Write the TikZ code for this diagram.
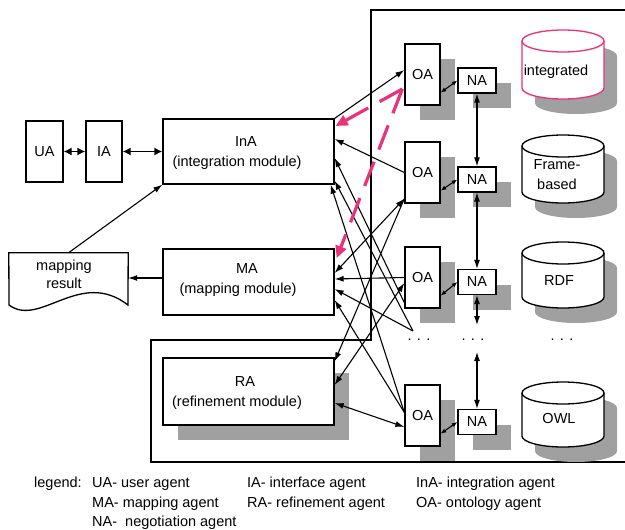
\documentclass[tikz,border=0pt]{standalone}
\usepackage{fontspec}
\setmainfont{Liberation Sans}
\usetikzlibrary{arrows.meta,shadows,calc}
\definecolor{shadowgray}{RGB}{160,160,160}
\definecolor{pinkline}{RGB}{232,50,122}
\newcommand{\dbcyl}[4]{%
  \fill[shadowgray] (#1+82+13,#2+15) -- (#1+82+13,#3+15) arc[start angle=0,end angle=180,x radius=41,y radius=11] -- (#1+13,#2+15) arc[start angle=180,end angle=360,x radius=41,y radius=11] -- cycle;
  \filldraw[fill=white,draw=#4,line width=1.3pt] (#1+82,#2) -- (#1+82,#3) arc[start angle=0,end angle=180,x radius=41,y radius=11] -- (#1,#2) arc[start angle=180,end angle=360,x radius=41,y radius=11] -- cycle;
  \draw[draw=#4,line width=1.3pt] (#1,#2) arc[start angle=180,end angle=0,x radius=41,y radius=11];
}
\tikzset{
  box/.style={draw, line width=1.3pt, fill=white, inner sep=0pt, align=center},
  shbox/.style={box, drop shadow={shadow xshift=14.5pt, shadow yshift=-15pt, fill=shadowgray, opacity=1}},
  conn/.style={line width=1.1pt, -{Latex[length=9pt,width=6pt]}},
  bothconn/.style={line width=1.1pt, {Latex[length=9pt,width=6pt]}-{Latex[length=9pt,width=6pt]}},
  bigboth/.style={line width=1.3pt, {Latex[length=8pt,width=8pt]}-{Latex[length=8pt,width=8pt]}},
  smallboth/.style={line width=1.1pt, {Latex[length=5.5pt,width=4.5pt]}-{Latex[length=5.5pt,width=4.5pt]}},
  pinkarrow/.style={draw=pinkline, line width=3.2pt, dash pattern=on 26pt off 13pt, -{Triangle[length=12pt,width=11pt,fill=pinkline]}},
  frameline/.style={line width=1.5pt},
  lbl/.style={inner sep=0pt, align=center},
  legendtxt/.style={inner sep=0pt, anchor=base west}
}
\begin{document}
\begin{tikzpicture}[x=1pt,y=-1pt, every node/.style={font=\fontsize{14.5}{20}\selectfont}]
\useasboundingbox (0,0) rectangle (625,530);
\fill[white] (0,0) rectangle (625,530);

% frame
\draw[frameline] (626,10) -- (371,10) -- (371,340) -- (151,340) -- (151,462) -- (626,462);

% databases
\dbcyl{522}{41}{88}{pinkline}
\dbcyl{522}{146}{192}{black}
\dbcyl{522}{253}{297}{black}
\dbcyl{522}{393}{436}{black}
\node[lbl] (dbInt) at (556,72) {integrated};
\node[lbl] (dbFrame) at (557,175) {Frame-\\based};
\node[lbl] (dbRDF) at (559,281) {RDF};
\node[lbl] (dbOWL) at (559,419) {OWL};

% mapping result document
\node[inner sep=0pt, minimum width=119pt, minimum height=52pt] (mapres) at (68.5,279) {};
\draw[line width=1.3pt, fill=white] (mapres.north west) -- (mapres.north east) -- (128,305) .. controls (80,268) and (40,328) .. (9,305) -- cycle;
\node[lbl, font=\fontsize{14.5}{18}\selectfont] (mapreslbl) at (64,274) {mapping\\result};

% agents
\node[box, minimum width=37pt, minimum height=61pt] (UA) at (44.5,151.5) {UA};
\node[box, minimum width=36pt, minimum height=61pt] (IA) at (104,151.5) {IA};
\node[box, minimum width=171pt, minimum height=65pt] (InA) at (248.5,151.5) {};
\node[lbl] (InAt) at (237,153) {\hspace*{18pt}InA\\(integration module)};
\node[box, minimum width=171pt, minimum height=66pt] (MA) at (248.5,282) {};
\node[lbl] (MAt) at (238,280) {\hspace*{18pt}MA\\(mapping module)};
\node[shbox, minimum width=171pt, minimum height=67pt] (RA) at (248.5,391.5) {};
\node[lbl] (RAt) at (237,393) {\hspace*{16pt}RA\\(refinement module)};

\node[shbox, minimum width=35pt, minimum height=61pt] (OA1) at (422.5,74.5) {OA};
\node[shbox, minimum width=35pt, minimum height=61pt] (OA2) at (422.5,172.5) {OA};
\node[shbox, minimum width=35pt, minimum height=61pt] (OA3) at (422.5,277.5) {OA};
\node[shbox, minimum width=35pt, minimum height=61pt] (OA4) at (422.5,415.5) {OA};

\node[shbox, minimum width=38pt, minimum height=25pt] (NA1) at (477,80.5) {NA};
\node[shbox, minimum width=38pt, minimum height=25pt] (NA2) at (477,179.5) {NA};
\node[shbox, minimum width=38pt, minimum height=25pt] (NA3) at (477,282) {NA};
\node[shbox, minimum width=38pt, minimum height=25pt] (NA4) at (477,422) {NA};

\node[lbl] (dots1) at (419,340) {. . .};
\node[lbl] (dots2) at (473,340) {. . .};
\node[lbl] (dots3) at (562,340) {. . .};
\coordinate (D) at (413,331);
\coordinate (v1) at (477,325);
\coordinate (v2) at (477,352);

% user side
\draw[bigboth] (UA.east) -- (IA.west);
\draw[bigboth] (IA.east) -- (InA.west |- IA.east);
\draw[conn] (mapres.north) -- (InA.south west);
\draw[conn] ($(MA.west)+(0,-4)$) -- ($(mapres.east)+(0,-1)$);

% module <-> ontology agent connectors
\draw[conn] (InA.north east) -- ($(OA1.west)+(0,-4.5)$);
\draw[conn] (OA2.west) -- ($(InA.east)+(0,-12.5)$);
\draw[conn] ($(OA3.south west)+(0,-6)$) -- ($(InA.east)+(0,6.5)$);
\draw[conn] (D) -- ($(InA.south east)+(0,-4)$);
\draw[conn] ($(OA4.west)+(0,-3)$) -- ($(InA.south east)+(-4,0)$);
\draw[bothconn] ($(MA.east)+(0,-9)$) -- ($(OA2.south west)+(0,-5)$);
\draw[conn] (OA3.west) -- ($(MA.east)+(0,-3)$);
\draw[conn] (D) -- ($(MA.east)+(0,7)$);
\draw[conn] ($(OA4.west)+(0,-3)$) -- ($(MA.east)+(0,18)$);
\draw[conn] ($(OA2.south west)+(0,-5)$) -- ($(RA.north east)+(0,4)$);
\draw[bothconn] ($(RA.east)+(0,-6.5)$) -- ($(OA3.west)+(0,5.5)$);
\draw[bothconn] ($(RA.east)+(0,11.5)$) -- ($(OA4.west)+(0,11.5)$);

% pink dashed
\draw[pinkarrow] ($(OA1.west)+(-2,14.5)$) -- ($(InA.east)+(1,-25.5)$);
\draw[pinkarrow] ($(OA1.west)+(-2,14.5)$) -- ($(MA.east)+(2,-24)$);

% OA <-> NA
\draw[smallboth] ($(OA1.south east)+(0,-13)$) -- (NA1.west);
\draw[smallboth] ($(OA2.south east)+(0,-13)$) -- (NA2.west);
\draw[smallboth] ($(OA3.south east)+(0,-13)$) -- (NA3.west);
\draw[smallboth] ($(OA4.south east)+(0,-13)$) -- (NA4.west);

% NA chain
\draw[bothconn] (NA1.south) -- (NA2.north);
\draw[bothconn] (NA2.south) -- (NA3.north);
\draw[bothconn] (NA3.south) -- (v1);
\draw[bothconn] (v2) -- (NA4.north);

% legend
\node[legendtxt] (lg0) at (34,487) {legend:};
\node[legendtxt] (lg1) at (92,487) {UA- user agent};
\node[legendtxt] (lg2) at (247,487) {IA- interface agent};
\node[legendtxt] (lg3) at (416,487) {InA- integration agent};
\node[legendtxt] (lg4) at (92,507) {MA- mapping agent};
\node[legendtxt] (lg5) at (247,507) {RA- refinement agent};
\node[legendtxt] (lg6) at (416,507) {OA- ontology agent};
\node[legendtxt] (lg7) at (92,526) {NA-~ negotiation agent};
\end{tikzpicture}
\end{document}
